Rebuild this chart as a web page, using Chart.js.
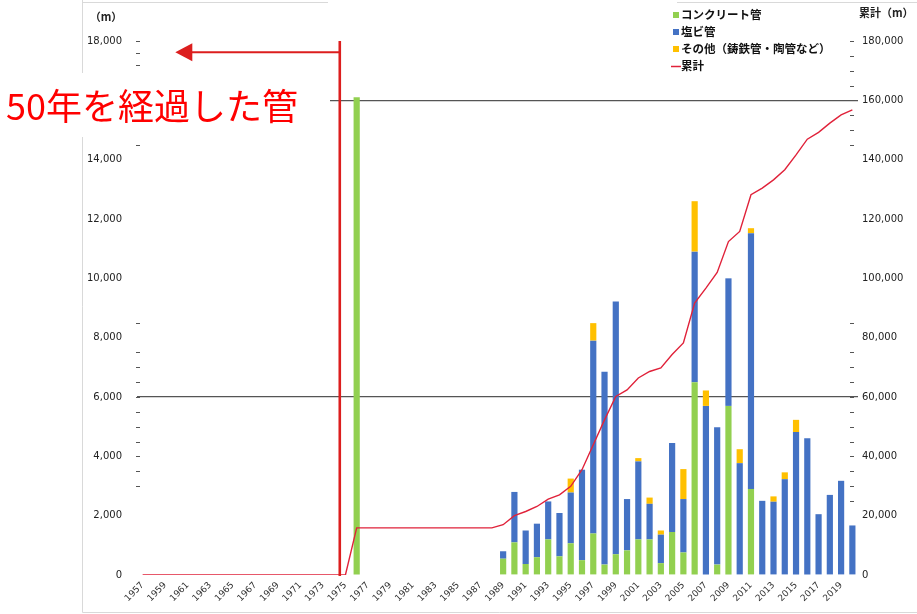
<!DOCTYPE html>
<html><head><meta charset="utf-8">
<script src="https://cdn.jsdelivr.net/npm/chart.js@4"></script>
<style>html,body{margin:0;padding:0;background:#fff;}#wrap{width:917px;height:614px;position:relative;}canvas{display:block;}</style>
</head><body><div id="wrap"><canvas id="c" width="917" height="614"></canvas></div>
<script>
const years = ['1957','1958','1959','1960','1961','1962','1963','1964','1965','1966','1967','1968','1969','1970','1971','1972','1973','1974','1975','1976','1977','1978','1979','1980','1981','1982','1983','1984','1985','1986','1987','1988','1989','1990','1991','1992','1993','1994','1995','1996','1997','1998','1999','2000','2001','2002','2003','2004','2005','2006','2007','2008','2009','2010','2011','2012','2013','2014','2015','2016','2017','2018','2019','2020'];
const xTickLabels = ['1957','','1959','','1961','','1963','','1965','','1967','','1969','','1971','','1973','','1975','','1977','','1979','','1981','','1983','','1985','','1987','','1989','','1991','','1993','','1995','','1997','','1999','','2001','','2003','','2005','','2007','','2009','','2011','','2013','','2015','','2017','','2019',''];
// concrete pipe (m)
const concrete = [0,0,0,0,0,0,0,0,0,0,0,0,0,0,0,0,0,0,0, 16100, 0,0,0,0,0,0,0,0,0,0,0,0,
  550,1100,370,600,1200,630,1070,500,1400,350,700,830,1200,1200,400,1450,760,6500,0,350,5700,0,2900,0,0,0,0,0,0,0,0,0];
// PVC pipe (m)
const pvc = [0,0,0,0,0,0,0,0,0,0,0,0,0,0,0,0,0,0,0, 0, 0,0,0,0,0,0,0,0,0,0,0,0,
  250,1700,1130,1130,1280,1460,1710,3050,6500,6500,8520,1730,2630,1200,960,3000,1800,4400,5700,4630,4300,3770,8620,2500,2470,3230,4820,4610,2050,2700,3175,1670];
// other (cast iron, ceramic...) (m)
const other = [0,0,0,0,0,0,0,0,0,0,0,0,0,0,0,0,0,0,0, 0, 0,0,0,0,0,0,0,0,0,0,0,0,
  0,0,0,0,0,0,470,0,590,0,0,0,110,210,140,0,1010,1700,520,0,0,470,170,0,180,230,410,0,0,0,0,0];
// cumulative (m)
const cumulative = [0,0,0,0,0,0,0,0,0,0,0,0,0,0,0,0,0,0,0,
  15900,15900,15900,15900,15900,15900,15900,15900,15900,15900,15900,15900,15900,
  16950,20000,21400,23100,25600,27000,29900,35500,43900,52300,60200,62400,66400,68600,69800,74300,78200,91700,96700,102000,112400,115800,128200,130400,133200,136600,141600,146900,149200,152300,155100,156800];
const leftTicks = [0,2000,4000,6000,8000,10000,12000,14000,16000,18000];
const leftMinor = [18000,17600,17200,14500,8500,7500,7000,6500,6000,5500,5000,4500,4000,3500,3000];
const rightMinor = [180000,175000,170000,165000,160000,155000,150000,145000,85000,75000,70000,65000,60000,55000,50000,45000,40000,35000,30000,25000];
const gridValues = [6000,16000];

const NUM = 'DejaVu Sans, sans-serif';
const JP = '"Noto Sans CJK JP", sans-serif';
const fmt = v => Number(v).toLocaleString('en-US');

const extras = {
  id: 'extras',
  afterDraw(chart) {
    const c = chart.ctx, a = chart.chartArea;
    const xs = chart.scales.x, yl = chart.scales.y, yr = chart.scales.y2;
    c.save();
    // frame
    c.strokeStyle = '#d9d9d9'; c.lineWidth = 1;
    c.beginPath();
    c.moveTo(82.5, 0); c.lineTo(82.5, 612.5); c.lineTo(917, 612.5);
    c.moveTo(82, 2.5); c.lineTo(328, 2.5);
    c.moveTo(677, 2.5); c.lineTo(917, 2.5);
    c.stroke();
    // minor ticks
    c.strokeStyle = '#555'; c.lineWidth = 1;
    c.beginPath();
    leftMinor.forEach(v => { const y = Math.round(yl.getPixelForValue(v)) + 0.5; c.moveTo(a.left - 1, y); c.lineTo(a.left + 3, y); });
    rightMinor.forEach(v => { const y = Math.round(yr.getPixelForValue(v)) + 0.5; c.moveTo(a.right - 8, y); c.lineTo(a.right - 4, y); });
    c.stroke();
    // axis titles
    c.fillStyle = '#222';
    c.font = 'bold 11px ' + JP;
    c.textBaseline = 'middle';
    c.textAlign = 'center';
    c.fillText('（m）', 106, 17);
    c.textAlign = 'left';
    c.fillText('累計（m）', 859, 13);
    // legend
    const items = [
      {t:'コンクリート管', col:'#92d050'},
      {t:'塩ビ管', col:'#4472c4'},
      {t:'その他（鋳鉄管・陶管など）', col:'#ffc000'},
      {t:'累計', col:'#e0223a', line:true}
    ];
    c.font = 'bold 11.5px ' + JP;
    items.forEach((it, i) => {
      const y = 15 + i * 17;
      if (it.line) {
        c.strokeStyle = it.col; c.lineWidth = 1.5;
        c.beginPath(); c.moveTo(671, y + 0.5); c.lineTo(681, y + 0.5); c.stroke();
      } else {
        c.fillStyle = it.col; c.fillRect(673, y - 3, 6, 6);
      }
      c.fillStyle = '#111';
      c.fillText(it.t, 681, y);
    });
    // annotation white box
    c.fillStyle = '#ffffff';
    c.fillRect(0, 73, 330, 64);
    c.fillStyle = '#ff0000';
    c.font = '36px ' + JP;
    c.textAlign = 'left';
    c.textBaseline = 'middle';
    c.fillText('50年を経過した管', 6, 106);
    // red vertical line
    const vx = (xs.getPixelForValue(17) + xs.getPixelForValue(18)) / 2;
    const yTop = yl.getPixelForValue(18000);
    c.strokeStyle = '#dc1e1e'; c.lineWidth = 2.6;
    c.beginPath(); c.moveTo(vx, yTop); c.lineTo(vx, a.bottom + 1); c.stroke();
    // arrow
    const ay = yl.getPixelForValue(17620);
    const tip = xs.getPixelForValue(2.9);
    c.lineWidth = 2;
    c.beginPath(); c.moveTo(vx, ay); c.lineTo(tip + 14, ay); c.stroke();
    c.fillStyle = '#dc1e1e';
    c.beginPath(); c.moveTo(tip, ay); c.lineTo(tip + 17, ay - 9); c.lineTo(tip + 17, ay + 9); c.closePath(); c.fill();
    c.restore();
  }
};

const barCommon = {yAxisID: 'y', stack: 's', order: 1, categoryPercentage: 1, barPercentage: 0.55, borderWidth: 0};
new Chart(document.getElementById('c'), {
  type: 'bar',
  data: {
    labels: years,
    datasets: [
      {type: 'line', label: '累計', data: cumulative, yAxisID: 'y2', borderColor: '#e0223a', borderWidth: 1.4, pointRadius: 0, tension: 0, fill: false, order: 0},
      Object.assign({label: 'コンクリート管', data: concrete, backgroundColor: '#92d050'}, barCommon),
      Object.assign({label: '塩ビ管', data: pvc, backgroundColor: '#4472c4'}, barCommon),
      Object.assign({label: 'その他（鋳鉄管・陶管など）', data: other, backgroundColor: '#ffc000'}, barCommon)
    ]
  },
  options: {
    responsive: false, animation: false,
    layout: {padding: {left: 82, right: 0, top: 41, bottom: 0}},
    plugins: {legend: {display: false}, tooltip: {enabled: false}},
    scales: {
      x: {
        stacked: true,
        grid: {display: false, drawTicks: false},
        border: {display: false},
        ticks: {autoSkip: false, maxRotation: 45, minRotation: 45, padding: 5, color: '#333', font: {family: NUM, size: 9}, callback: (v, i) => xTickLabels[i]},
        afterFit(s) { s.height = 39; }
      },
      y: {
        stacked: true, min: 0, max: 18000,
        afterBuildTicks(s) { s.ticks = leftTicks.map(v => ({value: v})); },
        ticks: {padding: 15, color: '#222', font: {family: NUM, size: 10}, callback: v => fmt(v)},
        grid: {drawTicks: false, lineWidth: 1.2, color: c => gridValues.includes(c.tick && c.tick.value) ? '#555' : 'rgba(0,0,0,0)'},
        border: {display: false},
        afterFit(s) { s.width = 55; }
      },
      y2: {
        position: 'right', min: 0, max: 180000,
        ticks: {stepSize: 20000, padding: 4, color: '#222', font: {family: NUM, size: 10}, callback: v => fmt(v)},
        grid: {drawOnChartArea: false, drawTicks: false},
        border: {display: false},
        afterFit(s) { s.width = 59; }
      }
    }
  },
  plugins: [extras]
});
</script>
</body></html>
